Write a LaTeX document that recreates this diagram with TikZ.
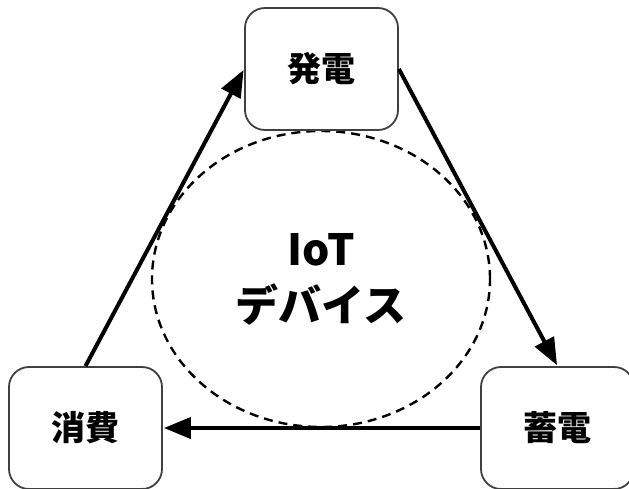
\documentclass[tikz,border=0pt]{standalone}
\usepackage{fontspec}
\newfontfamily\cjk{Noto Sans CJK JP}
\usetikzlibrary{arrows.meta,shapes.geometric}
\tikzset{
    %Define standard arrow tip
    >={Triangle[length=27pt,width=21pt]},
    %Define style for boxes
    unit/.style={
           rectangle,
           rounded corners=20pt,
           draw=black!75, line width=1.8pt,
           minimum width=153pt,
           minimum height=122pt,
           font=\cjk\bfseries\fontsize{34}{40}\selectfont,
           text centered,
           fill=white},
     device/.style={
           ellipse,
           draw=black, line width=2.4pt,
           dash pattern=on 9pt off 6pt,
           minimum width=338pt,
           minimum height=296pt,
           font=\cjk\bfseries\fontsize{43}{56}\selectfont,
           align=center
           },
    % Define arrow style
    pil/.style={
           ->,
           line width=4pt,
           shorten >=1pt,},
}
\begin{document}
\begin{tikzpicture}[x=1pt,y=-1pt]
\useasboundingbox (0,0) rectangle (629,488);
 %nodes
\node[device](iot) at (321,279){IoT\\デバイス};
\node[unit](gen) at (321.5,69){発電};
\node[unit](use) at (85.5,428){消費};
\node[unit](store) at (557.5,428){蓄電};
 %arrows
\draw[pil] (use.north) -- (gen.west);
\draw[pil] (gen.east) -- (store.north);
\draw[pil] (store.west) -- (use.east);
\end{tikzpicture}
\end{document}
